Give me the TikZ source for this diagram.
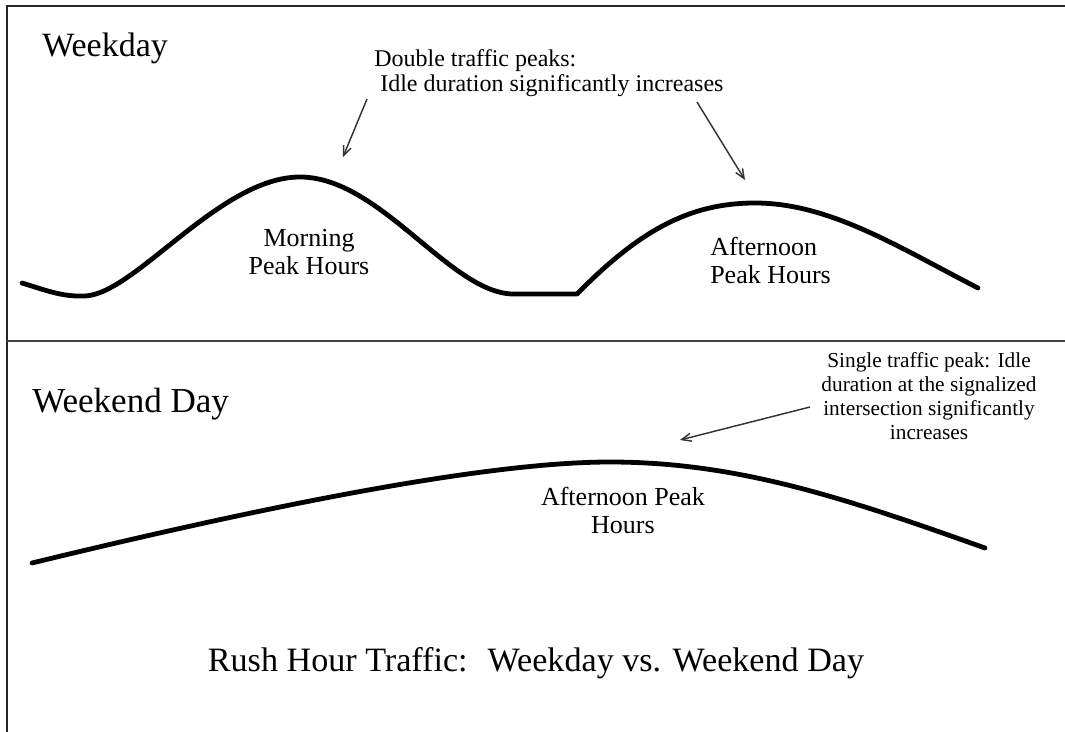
\documentclass[tikz,border=0pt]{standalone}
\usepackage{fontspec}
\setmainfont{Liberation Serif}
\usetikzlibrary{arrows.meta,positioning}

\begin{document}
\begin{tikzpicture}[
  x=0.75pt, y=-0.75pt,
  frame/.style={line width=1.5pt, black!85},
  traffic/.style={line width=3.6pt, line cap=round, line join=round},
  arrow/.style={-{Straight Barb[length=7pt,width=6pt]}, line width=1.1pt, black!80},
  label/.style={inner sep=0pt, font=\fontsize{19.5}{21}\selectfont},
  note/.style={inner sep=0pt}
]
\useasboundingbox (0,0) rectangle (1065,732);
% Frame and divider
\draw[frame] (7,732) -- (7,6) -- (1065,6);
\draw[line width=1.2pt, black!75] (7,341) -- (1065,341);

% Weekday panel
\node[inner sep=0pt, anchor=base west, font=\fontsize{25.5}{27}\selectfont] (wkday) at (42,56) {Weekday};
\node[note, anchor=north west, align=left, font=\fontsize{18}{19}\selectfont] (dbl) at (374,49) {Double traffic peaks:\\ \ Idle duration significantly increases};
\coordinate (dblA) at (367,99);
\coordinate (dblB) at (697,102);
\coordinate (pkMorning) at (343,157);
\coordinate (pkAfter) at (745,180);
\draw[traffic] (22,283) .. controls (45,290) and (62,297) .. (85,296)
  .. controls (135,294) and (220,177) .. (300,177)
  .. controls (380,177) and (450,293) .. (513,294)
  -- (577,294)
  .. controls (640,230) and (690,203) .. (755,203)
  .. controls (830,203) and (900,248) .. (978,288);
\draw[arrow] (dblA) -- (pkMorning);
\draw[arrow] (dblB) -- (pkAfter);
\node[label, anchor=north, align=center] (morning) at (309,229) {Morning\\Peak Hours};
\node[label, anchor=north west, align=left] (afternoon) at (710,237) {Afternoon\\Peak Hours};

% Weekend panel
\node[inner sep=0pt, anchor=base west, font=\fontsize{26.3}{28}\selectfont] (wkend) at (32,412) {Weekend Day};
\node[note, anchor=north, align=center, font=\fontsize{16}{18}\selectfont] (sgl) at (929,352) {Single traffic peak: Idle\\duration at the signalized\\intersection significantly\\increases};
\coordinate (sglA) at (810,407);
\coordinate (pkWeekend) at (680,440);
\draw[traffic] (32,563) .. controls (250,510) and (480,462) .. (610,462)
  .. controls (740,462) and (850,500) .. (985,548);
\draw[arrow] (sglA) -- (pkWeekend);
\node[label, anchor=north, align=center] (wkpeak) at (623,487) {Afternoon Peak\\Hours};

% Title
\node[inner sep=0pt, anchor=base, font=\fontsize{25.6}{27}\selectfont] (title) at (536,671) {Rush Hour Traffic: \ Weekday vs. Weekend Day};
\end{tikzpicture}
\end{document}
